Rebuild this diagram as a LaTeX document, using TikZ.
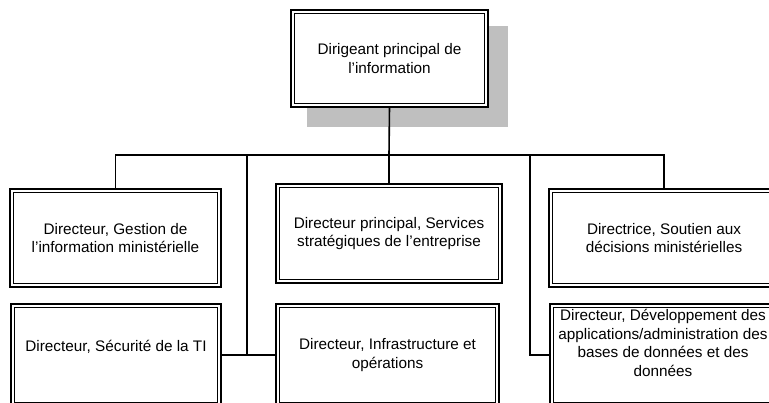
\documentclass[tikz,border=0pt]{standalone}
\usepackage{fontspec}
\setmainfont{Liberation Sans}
\begin{document}
\begin{tikzpicture}[x=1pt,y=-1pt,
  boxtext/.style={align=center, inner sep=0pt, font=\fontsize{15.3}{18.5}\selectfont},
  orgbox/.style={draw, line width=2pt, fill=white, outer sep=0pt, inner sep=4pt,
    boxtext,
    path picture={\draw[line width=0.9pt]
      ([shift={(3.2pt,-3.2pt)}]path picture bounding box.north west) rectangle
      ([shift={(-3.2pt,3.2pt)}]path picture bounding box.south east);}},
  link/.style={line width=1.6pt}]
\useasboundingbox (0,0) rectangle (769,403);
\clip (0,0) rectangle (769,403);

% shadow behind the head box
\fill[black!25] (307,26) rectangle (508,127);

% head of the organisation
\node[orgbox, minimum width=197pt, minimum height=97pt] (head) at (389.5,58.5)
  {Dirigeant principal de\\l’information};

% first row
\node[orgbox, minimum width=211pt, minimum height=98pt] (gestion) at (115.5,238)
  {Directeur, Gestion de\\l’information ministérielle};
\node[orgbox, minimum width=226pt, minimum height=99pt] (services) at (389,233.5)
  {Directeur principal, Services\\stratégiques de l’entreprise};
\node[orgbox, minimum width=230pt, minimum height=98pt] (soutien) at (664,238)
  {Directrice, Soutien aux\\décisions ministérielles};

% second row
\node[orgbox, minimum width=210pt, minimum height=101pt] (securite) at (116,355) {};
\node[boxtext] (securite-text) at ([yshift=8pt]securite.center)
  {Directeur, Sécurité de la TI};
\node[orgbox, minimum width=223pt, minimum height=101pt] (infra) at (387.5,355)
  {Directeur, Infrastructure et\\opérations};
\node[orgbox, minimum width=226pt, minimum height=101pt] (dev) at (663,355) {};
\node[boxtext] (dev-text) at ([yshift=12pt]dev.center)
  {Directeur, Développement des\\applications/administration des\\bases de données et des\\données};

% connectors
\coordinate (hub) at (389,155);
\coordinate (ltrunk) at (247,155);
\coordinate (rtrunk) at (530,155);
\draw[link] (head.south) -- (hub);
\draw[link] (gestion.north) |- (hub) -| (soutien.north);
\draw[link] (hub) -- (services.north);
\draw[link] (ltrunk) -- (ltrunk |- securite.east);
\draw[link] (securite.east) -- (infra.west);
\draw[link] (rtrunk) |- (dev.west);
\end{tikzpicture}
\end{document}
